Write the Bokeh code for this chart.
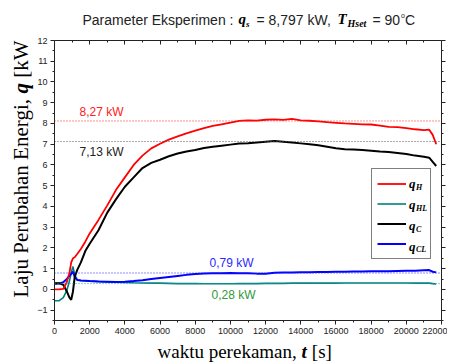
import math
from bokeh.plotting import figure
from bokeh.models import (Range1d, FixedTicker, LinearAxis, Label, Span, Legend, LegendItem)
from bokeh.layouts import column, row
from bokeh.embed import file_html
from bokeh.resources import INLINE

# ---------------- data ----------------
t_s = [0, 250, 500, 700, 850, 950, 1050, 1150, 1300, 1500, 1750, 2000, 2500, 3000, 3500,
       4000, 4500, 5000, 5500, 6000, 6500, 7000, 7500, 8000, 8500, 9000, 9500, 10000,
       10500, 11000, 11500, 12000, 12500, 13000, 13500, 14000, 14500, 15000, 15500,
       16000, 16500, 17000, 17500, 18000, 18500, 19000, 19500, 20000, 20500, 21000,
       21300, 21500, 21700]
q_H = [0.0, 0.0, 0.02, 0.35, 0.8, 1.3, 1.5, 1.55, 1.72, 1.95, 2.3, 2.7, 3.35, 4.05, 4.8,
       5.4, 6.0, 6.45, 6.8, 7.02, 7.22, 7.38, 7.52, 7.65, 7.78, 7.88, 7.96, 8.04,
       8.12, 8.15, 8.14, 8.18, 8.2, 8.17, 8.22, 8.15, 8.13, 8.1, 8.06,
       8.03, 8.0, 7.98, 7.96, 7.95, 7.9, 7.84, 7.82, 7.78, 7.72, 7.68,
       7.7, 7.45, 7.0]
q_HL = [-0.55, -0.55, -0.4, -0.05, 0.4, 0.8, 1.1, 0.7, 0.45, 0.43, 0.42, 0.4, 0.38, 0.36, 0.35,
        0.34, 0.32, 0.31, 0.3, 0.3, 0.29, 0.28, 0.28, 0.28, 0.27, 0.27, 0.27, 0.27,
        0.28, 0.28, 0.28, 0.29, 0.29, 0.29, 0.3, 0.3, 0.3, 0.3, 0.3,
        0.3, 0.31, 0.31, 0.31, 0.31, 0.31, 0.31, 0.31, 0.31, 0.3, 0.3,
        0.3, 0.28, 0.26]
q_C = [0.3, 0.3, 0.22, -0.1, -0.4, -0.5, -0.1, 0.6, 0.95, 1.3, 1.85, 2.2, 2.85, 3.7, 4.35,
       4.95, 5.4, 5.85, 6.1, 6.25, 6.42, 6.55, 6.65, 6.72, 6.82, 6.88, 6.93, 6.98,
       7.03, 7.05, 7.08, 7.12, 7.15, 7.12, 7.08, 7.04, 7.0, 6.95, 6.88,
       6.8, 6.76, 6.75, 6.72, 6.69, 6.65, 6.62, 6.58, 6.53, 6.45, 6.4,
       6.35, 6.15, 5.95]
q_CL = [0.27, 0.28, 0.35, 0.5, 0.65, 0.75, 0.85, 0.6, 0.45, 0.43, 0.42, 0.4, 0.38, 0.37, 0.36,
        0.37, 0.4, 0.44, 0.5, 0.55, 0.6, 0.65, 0.7, 0.74, 0.77, 0.78, 0.78, 0.79,
        0.78, 0.78, 0.76, 0.75, 0.8, 0.82, 0.82, 0.83, 0.83, 0.84, 0.84,
        0.85, 0.85, 0.86, 0.86, 0.87, 0.87, 0.88, 0.89, 0.9, 0.9, 0.92,
        0.93, 0.85, 0.82]

ref_levels = [8.12, 7.13, 0.79, 0.28]
ref_labels = ["8,27 kW", "7,13 kW", "0,79 kW", "0,28 kW"]

x_ticks = list(range(0, 22001, 2000))
x_minor = list(range(1000, 22000, 2000))
y_ticks = list(range(-1, 13))
y_minor = [v + 0.5 for v in range(-2, 12)]

SERIF = "Liberation Serif"
SANS = "Liberation Sans"

# ---------------- layout constants (page pixels) ----------------
TOTAL_W = 447
TITLE_H = 30
YLAB_W = 34
MAIN_H = 310
XLAB_H = 23
FL, FB = 52, 320            # page coords of main frame left / bottom
FRAME_W, FRAME_H = 389, 280
BASE_FIX = 0.26             # label anchor vs. visible baseline, in em


def lab(fig, left, bottom, px, py, text, font=SANS, size=12, style="normal",
        color="#222", angle=0):
    if angle:
        px -= BASE_FIX * size
    else:
        py -= BASE_FIX * size
    fig.add_layout(Label(x=px - left, y=bottom - py, x_units="screen", y_units="screen",
                         text=text, text_font=font, text_font_size=f"{size}px",
                         text_font_style=style, text_color=color, text_align="left",
                         text_baseline="alphabetic", angle=angle))


def text_fig(w, h):
    f = figure(width=w, height=h, output_backend="svg", toolbar_location=None,
               x_range=Range1d(0, w), y_range=Range1d(0, h),
               min_border=0, x_axis_location=None, y_axis_location=None)
    f.outline_line_color = None
    f.xgrid.visible = False
    f.ygrid.visible = False
    return f


# ---------------- main plot ----------------
MAIN_W = TOTAL_W - YLAB_W
b_left = FL - YLAB_W
b_top = FB - FRAME_H - TITLE_H
p = figure(width=MAIN_W, height=MAIN_H, output_backend="svg", toolbar_location=None,
           x_range=Range1d(0, 22000), y_range=Range1d(-1.5, 12),
           min_border_left=b_left, min_border_top=b_top,
           min_border_right=MAIN_W - b_left - FRAME_W,
           min_border_bottom=MAIN_H - b_top - FRAME_H,
           x_axis_location=None, y_axis_location=None)
p.outline_line_color = None
p.xgrid.visible = False
p.ygrid.visible = False


def style_axis(ax, labels=True, inward=False):
    ax.axis_line_color = "#222"
    ax.major_tick_line_color = "#222"
    ax.minor_tick_line_color = "#222"
    if inward:
        ax.major_tick_in, ax.major_tick_out = 4, 0
        ax.minor_tick_in, ax.minor_tick_out = 2, 0
    else:
        ax.major_tick_in, ax.major_tick_out = 0, 4
        ax.minor_tick_in, ax.minor_tick_out = 0, 2
    ax.major_label_text_font = SANS
    if labels:
        ax.major_label_text_color = "#222"
        ax.major_label_text_font_size = "9px"
        ax.major_label_standoff = 3
    else:
        ax.major_label_text_color = None
        ax.major_label_text_font_size = "1px"
        ax.major_label_standoff = 0


xb = LinearAxis(ticker=FixedTicker(ticks=x_ticks, minor_ticks=x_minor))
xt = LinearAxis(ticker=FixedTicker(ticks=x_ticks, minor_ticks=x_minor))
yl = LinearAxis(ticker=FixedTicker(ticks=y_ticks, minor_ticks=y_minor))
yr = LinearAxis(ticker=FixedTicker(ticks=y_ticks, minor_ticks=y_minor))
style_axis(xb); style_axis(yl)
style_axis(xt, labels=False, inward=True); style_axis(yr, labels=False)
p.add_layout(xb, "below"); p.add_layout(xt, "above")
p.add_layout(yl, "left"); p.add_layout(yr, "right")

ref_colors = ["#ff2020", "#555555", "#2020ff", "#20a0a0"]
for lev, col in zip(ref_levels, ref_colors):
    p.add_layout(Span(location=lev, dimension="width", line_color=col,
                      line_dash="1 2", line_width=1))

r_hl = p.line(t_s, q_HL, line_color="#008080", line_width=1.6)
r_cl = p.line(t_s, q_CL, line_color="#0000ff", line_width=2)
r_c = p.line(t_s, q_C, line_color="#000000", line_width=2)
r_h = p.line(t_s, q_H, line_color="#ff0000", line_width=1.8)

leg_subs = ["H", "HL", "C", "CL"]
for i, s in enumerate(leg_subs):
    base = 186.5 + i * 20.8
    lab(p, FL, FB, 406.5, base, "q", SERIF, 13, "bold italic", "#000")
    lab(p, FL, FB, 413.5, base + 2.5, s, SERIF, 8, "bold italic", "#000")

legend = Legend(items=[LegendItem(label=" ", renderers=[r_h]),
                       LegendItem(label=" ", renderers=[r_hl]),
                       LegendItem(label=" ", renderers=[r_c]),
                       LegendItem(label=" ", renderers=[r_cl])],
                location=(369 - FL, FB - 259), padding=5, spacing=1,
                glyph_width=29, glyph_height=19, label_height=19, label_width=17,
                label_standoff=2, label_text_font_size="6px",
                border_line_color="#000", border_line_width=1,
                background_fill_color="white", background_fill_alpha=0, margin=0)
p.add_layout(legend, "center")

ref_text_pos = [(77, 115), (77, 155), (207, 265.5), (209, 298)]
ref_text_col = ["#ff2020", "#222222", "#2a2aff", "#2e9a3a"]
for (px, py), txt, col in zip(ref_text_pos, ref_labels, ref_text_col):
    lab(p, FL, FB, px, py, txt, SANS, 12, "normal", col)

# ---------------- title strip ----------------
tf = text_fig(TOTAL_W, TITLE_H)
TB = TITLE_H
lab(tf, 0, TB, 82, 22.7, "Parameter Eksperimen :", SANS, 14)
lab(tf, 0, TB, 238, 22.7, "q", SERIF, 15, "bold italic", "#000")
lab(tf, 0, TB, 245.5, 25.5, "s", SERIF, 9, "bold italic", "#000")
lab(tf, 0, TB, 256, 22.7, "= 8,797 kW,", SANS, 14)
lab(tf, 0, TB, 337, 22.7, "T", SERIF, 15, "bold italic", "#000")
lab(tf, 0, TB, 347, 25.5, "Hset", SERIF, 10, "bold italic", "#000")
lab(tf, 0, TB, 372, 22.7, "= 90", SANS, 14)
lab(tf, 0, TB, 400.5, 17, "o", SANS, 7)
lab(tf, 0, TB, 404.5, 22.7, "C", SANS, 14)

# ---------------- y label strip ----------------
yf = text_fig(YLAB_W, MAIN_H)
YB = TITLE_H + MAIN_H
ang = math.pi / 2
lab(yf, 0, YB, 26, 317, "Laju Perubahan Energi,", SERIF, 21, "normal", "#000", ang)
lab(yf, 0, YB, 26, 113, "q", SERIF, 21, "bold italic", "#000", ang)
lab(yf, 0, YB, 26, 97.3, "[kW]", SERIF, 21, "normal", "#000", ang)

# ---------------- x label strip ----------------
xf = text_fig(TOTAL_W, XLAB_H)
XB = TITLE_H + MAIN_H + XLAB_H
lab(xf, 0, XB, 157, 356, "waktu perekaman,", SERIF, 19, "normal", "#000")
lab(xf, 0, XB, 301, 356, "t", SERIF, 19, "bold italic", "#000")
lab(xf, 0, XB, 311.3, 356, "[s]", SERIF, 19, "normal", "#000")

layout = column(tf, row(yf, p, spacing=0), xf, spacing=0)
open("out.html", "w").write(file_html(layout, INLINE))
